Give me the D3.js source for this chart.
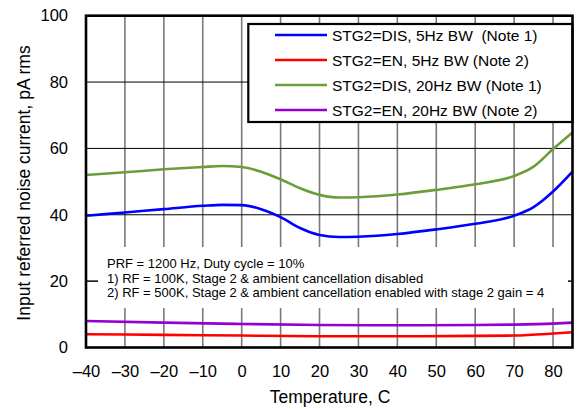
<!DOCTYPE html>
<html><head><meta charset="utf-8">
<script src="https://cdn.jsdelivr.net/npm/d3@7"></script>
<style>body{margin:0;background:#fff}svg{display:block}text{font-family:"Liberation Sans",Arial,sans-serif;fill:#000;white-space:pre}</style>
</head><body>
<svg id="c" width="578" height="409"></svg>
<script>
const temps = [-40,-30,-20,-10,-5,0,5,10,15,20,25,30,40,50,60,70,75,80,85];
const dis5  = [39.7,40.7,41.7,42.7,43.0,42.9,41.7,39.3,36.0,33.9,33.3,33.4,34.2,35.6,37.3,39.7,42.3,47.0,53.0];
const dis20 = [52.0,52.8,53.7,54.4,54.7,54.4,53.0,50.7,48.0,46.0,45.2,45.3,46.1,47.5,49.2,51.7,54.5,59.8,64.8];
const lowT  = [-40,-20,0,20,40,60,70,80,85];
const en5   = [4.0,3.8,3.6,3.4,3.4,3.5,3.6,4.2,4.6];
const en20  = [8.0,7.5,7.1,6.8,6.7,6.8,6.9,7.2,7.5];
const seriesNames = ["STG2=DIS, 5Hz BW  (Note 1)","STG2=EN, 5Hz BW (Note 2)","STG2=DIS, 20Hz BW (Note 1)","STG2=EN, 20Hz BW (Note 2)"];
const seriesColors = ["#0000ff","#ff0000","#6b9e3a","#9400d3"];
const xTicks = [-40,-30,-20,-10,0,10,20,30,40,50,60,70,80];
const yTicks = [0,20,40,60,80,100];
const notes = ["PRF = 1200 Hz, Duty cycle = 10%","1) RF = 100K, Stage 2 & ambient cancellation disabled","2) RF = 500K, Stage 2 & ambient cancellation enabled with stage 2 gain = 4"];

const svg = d3.select("#c");
const L=86,R=572.5,T=15.7,B=347.5;
const x = d3.scaleLinear().domain([-40,85]).range([L,R]);
const y = d3.scaleLinear().domain([0,100]).range([B,T]);

svg.append("clipPath").attr("id","pc").append("rect").attr("x",L).attr("y",T).attr("width",R-L).attr("height",B-T);

// grid
svg.append("g").selectAll("line").data(xTicks.slice(1)).join("line")
  .attr("x1",d=>x(d)).attr("x2",d=>x(d)).attr("y1",T).attr("y2",B)
  .attr("stroke","#7a7a7a").attr("stroke-width",1.6);
svg.append("g").selectAll("line").data([20,40,60,80]).join("line")
  .attr("x1",L).attr("x2",R).attr("y1",d=>y(d)).attr("y2",d=>y(d))
  .attr("stroke","#000").attr("stroke-width",1);

// note box
svg.append("rect").attr("x",98).attr("y",247).attr("width",470).attr("height",61).attr("fill","#fff");
svg.append("g").selectAll("text").data(notes).join("text")
  .attr("x",107).attr("y",(d,i)=>268+i*14.6).attr("font-size",13).text(d=>d);

// series
const line = d3.line().x(d=>x(d[0])).y(d=>y(d[1])).curve(d3.curveMonotoneX);
const data = [d3.zip(temps,dis5), d3.zip(lowT,en5), d3.zip(temps,dis20), d3.zip(lowT,en20)];
svg.append("g").attr("clip-path","url(#pc)").selectAll("path").data(data).join("path")
  .attr("d",line).attr("fill","none").attr("stroke",(d,i)=>seriesColors[i]).attr("stroke-width",2.6);

// legend
const lg = svg.append("g");
lg.append("rect").attr("x",248.3).attr("y",24).attr("width",R-248.3).attr("height",98).attr("fill","#fff").attr("stroke","#000").attr("stroke-width",2.2);
seriesNames.forEach((n,i)=>{
  const yy = 35 + i*25;
  lg.append("line").attr("x1",275).attr("x2",327).attr("y1",yy).attr("y2",yy).attr("stroke",seriesColors[i]).attr("stroke-width",2.6);
  lg.append("text").attr("x",332).attr("y",yy).attr("dy","0.36em").attr("font-size",15.5).text(n);
});

// plot frame
svg.append("rect").attr("x",L).attr("y",T).attr("width",R-L).attr("height",B-T).attr("fill","none").attr("stroke","#000").attr("stroke-width",2.6);

// axes
const xa = svg.append("g").attr("transform",`translate(0,${B})`).call(d3.axisBottom(x).tickValues(xTicks).tickSize(0).tickPadding(0).tickFormat(d=>d<0?"\u2013"+Math.abs(d):d));
xa.select(".domain").remove();
xa.selectAll("text").attr("font-size",16.5).attr("font-family","Liberation Sans, Arial, sans-serif").attr("dy",null).attr("y",29);
const ya = svg.append("g").attr("transform",`translate(${L},0)`).call(d3.axisLeft(y).tickValues(yTicks).tickSize(0).tickPadding(18));
ya.select(".domain").remove();
ya.selectAll("text").attr("font-size",16.5).attr("font-family","Liberation Sans, Arial, sans-serif");
// inner tick stubs at 20
svg.append("line").attr("x1",L).attr("x2",98).attr("y1",y(20)).attr("y2",y(20)).attr("stroke","#000");
svg.append("line").attr("x1",568).attr("x2",R).attr("y1",y(20)).attr("y2",y(20)).attr("stroke","#000");

svg.append("text").attr("x",330).attr("y",403).attr("text-anchor","middle").attr("font-size",17.5).text("Temperature, C");
svg.append("text").attr("transform","translate(30,183) rotate(-90)").attr("text-anchor","middle").attr("font-size",17.5).text("Input referred noise current, pA rms");
</script>
</body></html>
